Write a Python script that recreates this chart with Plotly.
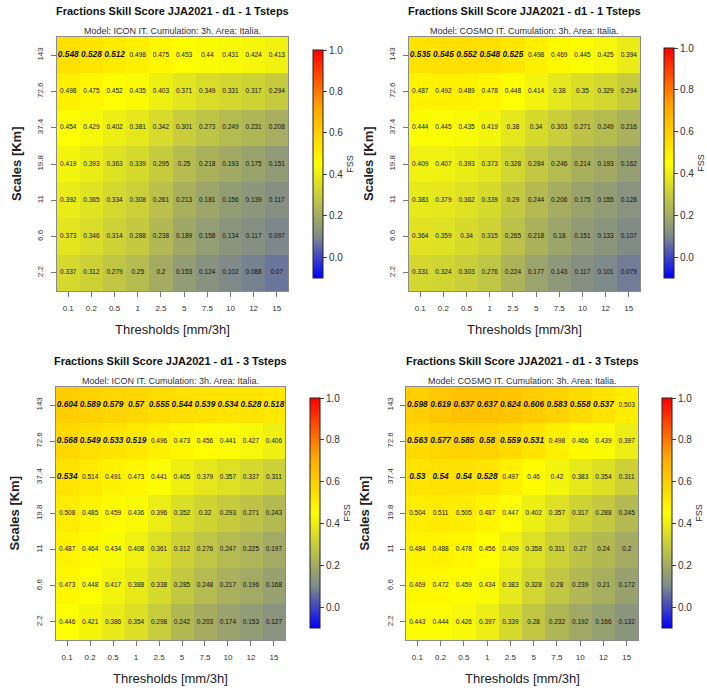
import plotly.graph_objects as go

# Axis categories
thresholds = ["0.1", "0.2", "0.5", "1", "2.5", "5", "7.5", "10", "12", "15"]
scales = ["143", "72.6", "37.4", "19.8", "11", "6.6", "2.2"]  # rows listed top to bottom

# FSS, ICON IT, 1 time step
fss_icon_1 = [
    [0.548, 0.528, 0.512, 0.498, 0.475, 0.453, 0.44, 0.431, 0.424, 0.413],
    [0.498, 0.475, 0.452, 0.435, 0.403, 0.371, 0.349, 0.331, 0.317, 0.294],
    [0.454, 0.429, 0.402, 0.381, 0.342, 0.301, 0.273, 0.249, 0.231, 0.208],
    [0.419, 0.393, 0.363, 0.339, 0.295, 0.25, 0.218, 0.193, 0.175, 0.151],
    [0.392, 0.365, 0.334, 0.308, 0.261, 0.213, 0.181, 0.156, 0.139, 0.117],
    [0.373, 0.346, 0.314, 0.288, 0.238, 0.189, 0.158, 0.134, 0.117, 0.097],
    [0.337, 0.312, 0.279, 0.25, 0.2, 0.153, 0.124, 0.102, 0.088, 0.07],
]

# FSS, COSMO IT, 1 time step
fss_cosmo_1 = [
    [0.535, 0.545, 0.552, 0.548, 0.525, 0.498, 0.469, 0.445, 0.425, 0.394],
    [0.487, 0.492, 0.489, 0.478, 0.448, 0.414, 0.38, 0.35, 0.329, 0.294],
    [0.444, 0.445, 0.435, 0.419, 0.38, 0.34, 0.303, 0.271, 0.249, 0.216],
    [0.409, 0.407, 0.393, 0.373, 0.328, 0.284, 0.246, 0.214, 0.193, 0.162],
    [0.383, 0.379, 0.362, 0.339, 0.29, 0.244, 0.206, 0.175, 0.155, 0.128],
    [0.364, 0.359, 0.34, 0.315, 0.265, 0.218, 0.18, 0.151, 0.133, 0.107],
    [0.331, 0.324, 0.303, 0.276, 0.224, 0.177, 0.143, 0.117, 0.101, 0.079],
]

# FSS, ICON IT, 3 time steps
fss_icon_3 = [
    [0.604, 0.589, 0.579, 0.57, 0.555, 0.544, 0.539, 0.534, 0.528, 0.518],
    [0.568, 0.549, 0.533, 0.519, 0.496, 0.473, 0.456, 0.441, 0.427, 0.406],
    [0.534, 0.514, 0.491, 0.473, 0.441, 0.405, 0.379, 0.357, 0.337, 0.311],
    [0.508, 0.485, 0.459, 0.436, 0.396, 0.352, 0.32, 0.293, 0.271, 0.243],
    [0.487, 0.464, 0.434, 0.408, 0.361, 0.312, 0.276, 0.247, 0.225, 0.197],
    [0.473, 0.448, 0.417, 0.388, 0.338, 0.285, 0.248, 0.217, 0.196, 0.168],
    [0.446, 0.421, 0.386, 0.354, 0.298, 0.242, 0.203, 0.174, 0.153, 0.127],
]

# FSS, COSMO IT, 3 time steps
fss_cosmo_3 = [
    [0.598, 0.619, 0.637, 0.637, 0.624, 0.606, 0.583, 0.558, 0.537, 0.503],
    [0.563, 0.577, 0.585, 0.58, 0.559, 0.531, 0.498, 0.466, 0.439, 0.397],
    [0.53, 0.54, 0.54, 0.528, 0.497, 0.46, 0.42, 0.383, 0.354, 0.311],
    [0.504, 0.511, 0.505, 0.487, 0.447, 0.402, 0.357, 0.317, 0.288, 0.245],
    [0.484, 0.488, 0.478, 0.456, 0.409, 0.358, 0.311, 0.27, 0.24, 0.2],
    [0.469, 0.472, 0.459, 0.434, 0.383, 0.328, 0.28, 0.239, 0.21, 0.172],
    [0.443, 0.444, 0.426, 0.397, 0.339, 0.28, 0.232, 0.192, 0.166, 0.132],
]

# FSS level above which a score counts as useful, per threshold
useful_fss = [0.52, 0.515, 0.51, 0.505, 0.505, 0.505, 0.505, 0.505, 0.505, 0.505]

W, H = 707, 690
FONT = "Liberation Sans, Arial, sans-serif"


def fx(px):
    return px / W


def fy(py):
    return 1 - py / H


colorscale = [
    [0.0, "#0000ff"],
    [0.1818, "#7f8a8a"],
    [0.5, "#ffff00"],
    [0.75, "#ffa500"],
    [1.0, "#ff0000"],
]

panels = [
    dict(z=fss_icon_1, model="ICON IT", steps=1, box=(57, 290, 37, 291), cb=(315, 50, 278)),
    dict(z=fss_cosmo_1, model="COSMO IT", steps=1, box=(411, 644, 37, 291), cb=(668, 48, 278)),
    dict(z=fss_icon_3, model="ICON IT", steps=3, box=(56, 287, 387, 640), cb=(312, 398, 628)),
    dict(z=fss_cosmo_3, model="COSMO IT", steps=3, box=(408, 642, 387, 640), cb=(666, 398, 628)),
]

fig = go.Figure()
annotations = []
layout_axes = {}

for i, p in enumerate(panels):
    n = i + 1
    xa = "x" if n == 1 else f"x{n}"
    ya = "y" if n == 1 else f"y{n}"
    x0, x1, y0, y1 = p["box"]
    cbx, cby0, cby1 = p["cb"]

    fig.add_trace(go.Heatmap(
        z=p["z"], x=thresholds, y=scales,
        xaxis=xa, yaxis=ya,
        zmin=-0.1, zmax=1.0, colorscale=colorscale,
        hoverinfo="skip",
        colorbar=dict(
            x=fx(cbx), xanchor="left", xpad=0, ypad=0,
            y=fy((cby0 + cby1) / 2), yanchor="middle",
            len=(cby1 - cby0) / H, lenmode="fraction",
            thickness=10, thicknessmode="pixels",
            outlinewidth=1, outlinecolor="#222",
            tickvals=[0, 0.2, 0.4, 0.6, 0.8, 1.0],
            ticktext=["0.0", "0.2", "0.4", "0.6", "0.8", "1.0"],
            ticks="outside", ticklen=4, tickcolor="#444",
            tickfont=dict(family=FONT, size=10, color="#333"),
            title=dict(text="FSS", side="right", font=dict(family=FONT, size=9, color="#333")),
        ),
    ))

    # cell labels: useful scores in bold italic, the rest plain
    for bold in (False, True):
        xs, ys, ts = [], [], []
        for r, row in enumerate(p["z"]):
            for c, v in enumerate(row):
                if (v > useful_fss[c]) == bold:
                    xs.append(thresholds[c])
                    ys.append(scales[r])
                    ts.append(f"{v:g}")
        fig.add_trace(go.Scatter(
            x=xs, y=ys, text=ts, mode="text", xaxis=xa, yaxis=ya,
            hoverinfo="skip", showlegend=False,
            textfont=dict(
                family=FONT, color="#111",
                size=8.3 if bold else 6.5,
                weight="bold" if bold else "normal",
                style="italic" if bold else "normal",
            ),
        ))

    axis_common = dict(
        type="category", showgrid=False, zeroline=False,
        showline=True, mirror=True, linecolor="#8c8c8c", linewidth=1,
        ticks="outside", ticklen=5, tickcolor="#777",
        tickfont=dict(family=FONT, size=8, color="#333"),
    )
    layout_axes["xaxis" if n == 1 else f"xaxis{n}"] = dict(
        axis_common, domain=[fx(x0), fx(x1)], anchor=ya,
        categoryorder="array", categoryarray=thresholds,
        range=[-0.5, len(thresholds) - 0.5], ticklabelstandoff=4,
    )
    layout_axes["yaxis" if n == 1 else f"yaxis{n}"] = dict(
        axis_common, domain=[fy(y1), fy(y0)], anchor=xa,
        categoryorder="array", categoryarray=scales[::-1],
        range=[-0.5, len(scales) - 0.5], tickangle=-90, ticklabelstandoff=4,
    )

    cx = (x0 + x1) / 2
    annotations += [
        dict(text=f"<b>Fractions Skill Score JJA2021 - d1 - {p['steps']} Tsteps</b>",
             x=fx(cx), y=fy(y0 - 26), font=dict(family=FONT, size=11, color="#111")),
        dict(text=f"Model: {p['model']}. Cumulation: 3h. Area: Italia.",
             x=fx(cx), y=fy(y0 - 6), font=dict(family=FONT, size=9, color="#333")),
        dict(text="Thresholds [mm/3h]",
             x=fx(cx), y=fy(y1 + 38), font=dict(family=FONT, size=13, color="#222")),
        dict(text="<b>Scales [Km]</b>", textangle=-90,
             x=fx(x0 - 41), y=fy((y0 + y1) / 2), font=dict(family=FONT, size=13, color="#222")),
    ]

for a in annotations:
    a.update(xref="paper", yref="paper", showarrow=False, xanchor="center", yanchor="middle")

fig.update_layout(
    width=W, height=H,
    margin=dict(l=0, r=0, t=0, b=0),
    paper_bgcolor="white", plot_bgcolor="white",
    showlegend=False,
    annotations=annotations,
    **layout_axes,
)

fig.write_html("out.html")
